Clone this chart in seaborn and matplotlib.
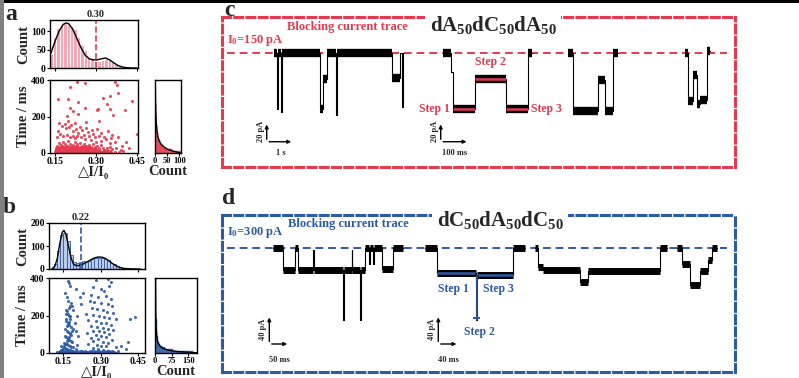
import numpy as np
import pandas as pd
import seaborn as sns
import matplotlib
matplotlib.use("Agg")
import matplotlib.pyplot as plt
from matplotlib.patches import Rectangle
import matplotlib.transforms as mtrans

sns.set_theme(style="white")
plt.rcParams["font.family"] = ["Liberation Serif", "DejaVu Sans"]
plt.rcParams["font.weight"] = "bold"
plt.rcParams["axes.labelweight"] = "bold"
plt.rcParams["mathtext.fontset"] = "custom"
plt.rcParams["mathtext.rm"] = "Liberation Serif:bold"
plt.rcParams["mathtext.it"] = "Liberation Serif:bold"
plt.rcParams["mathtext.bf"] = "Liberation Serif:bold"

RED = "#E5394F"
RED_LIGHT = "#F4A7B4"
BLUE = "#2D5AA8"
BLUE_LIGHT = "#BACCEA"

# ---------------- panel a data ----------------
HA_CENTERS = [0.136, 0.149, 0.161, 0.174, 0.186, 0.199, 0.211, 0.224, 0.236, 0.249,
              0.261, 0.274, 0.286, 0.299, 0.311, 0.324, 0.336, 0.349, 0.361, 0.374,
              0.386, 0.399, 0.411, 0.424, 0.436, 0.449]
HA_COUNTS = [38, 85, 108, 118, 122, 120, 115, 105, 85, 62,
             48, 30, 25, 20, 18, 22, 25, 22, 15, 10,
             5, 3, 1, 0, 2, 0]
FIT_A_X = [0.135, 0.15, 0.165, 0.18, 0.19, 0.20, 0.215, 0.23, 0.245, 0.26, 0.275,
           0.29, 0.305, 0.32, 0.335, 0.35, 0.365, 0.38, 0.395, 0.41, 0.43, 0.45]
FIT_A_Y = [40, 72, 100, 118, 122, 120, 105, 80, 55, 35, 25,
           22, 22, 25, 27, 22, 14, 7, 3, 1, 0, 0]
PEAK_A = 0.30

SA_X = [0.232, 0.260, 0.205, 0.370, 0.376, 0.160, 0.196, 0.235, 0.327, 0.351, 0.382, 0.433,
        0.205, 0.217, 0.260, 0.303, 0.309, 0.339, 0.351, 0.406, 0.363, 0.193, 0.199, 0.235,
        0.449, 0.394,
        0.165, 0.175, 0.185, 0.19, 0.2, 0.21, 0.215, 0.222, 0.228, 0.235, 0.24, 0.25, 0.255,
        0.262, 0.27, 0.275, 0.285, 0.29, 0.298, 0.305, 0.312, 0.32, 0.33, 0.338, 0.345, 0.355,
        0.36, 0.37, 0.38, 0.16, 0.17, 0.18, 0.158, 0.195, 0.205, 0.215, 0.225, 0.23, 0.245,
        0.26, 0.28, 0.3, 0.32, 0.35, 0.265, 0.31, 0.41, 0.42, 0.39,
        0.152, 0.155, 0.158, 0.16, 0.163, 0.165, 0.168, 0.17, 0.172, 0.175, 0.178, 0.18, 0.182,
        0.185, 0.187, 0.19, 0.192, 0.195, 0.197, 0.2, 0.202, 0.205, 0.207, 0.21, 0.212, 0.215,
        0.217, 0.22, 0.222, 0.225, 0.227, 0.23, 0.232, 0.235, 0.237, 0.24, 0.242, 0.245, 0.247,
        0.25, 0.252, 0.255, 0.257, 0.26, 0.262, 0.265, 0.267, 0.27, 0.272, 0.275, 0.278, 0.28,
        0.283, 0.285, 0.288, 0.29, 0.293, 0.296, 0.3, 0.303, 0.306, 0.31, 0.314, 0.318, 0.322,
        0.326, 0.33, 0.335, 0.34, 0.345, 0.35, 0.355, 0.36, 0.368, 0.375, 0.385, 0.4,
        0.154, 0.166, 0.176, 0.186, 0.196, 0.206, 0.216, 0.226, 0.236, 0.246, 0.256, 0.266,
        0.276, 0.286, 0.296, 0.306, 0.316, 0.326, 0.159, 0.171, 0.183, 0.193, 0.203, 0.213,
        0.223, 0.233, 0.243, 0.253, 0.263, 0.273, 0.283, 0.293, 0.303, 0.313, 0.323, 0.333,
        0.151, 0.157, 0.162, 0.167, 0.173, 0.179, 0.184, 0.189, 0.194, 0.199, 0.204, 0.209,
        0.214, 0.219, 0.224, 0.229, 0.234, 0.239, 0.244, 0.249, 0.254, 0.259, 0.264, 0.269,
        0.274, 0.279, 0.284, 0.289, 0.294, 0.299, 0.304, 0.309, 0.153, 0.164, 0.174, 0.181,
        0.188, 0.198, 0.208, 0.218, 0.228, 0.238, 0.248, 0.258, 0.268, 0.278, 0.291, 0.301,
        0.156, 0.169, 0.177, 0.191, 0.201, 0.211, 0.221, 0.231, 0.241, 0.251, 0.261, 0.271,
        0.281, 0.292, 0.312, 0.328, 0.342, 0.352]
SA_Y = [389, 382, 363, 389, 371, 294, 294, 279, 303, 312, 330, 285,
        248, 230, 248, 236, 239, 267, 239, 236, 207, 203, 175, 212,
        102, 38,
        165, 150, 160, 135, 140, 155, 120, 165, 130, 110, 145, 125, 100,
        135, 115, 95, 125, 105, 85, 130, 95, 110, 90, 75, 120, 80,
        100, 60, 85, 120, 105, 95, 90, 100, 85, 95, 80, 95, 85,
        75, 70, 60, 65, 55, 170, 175, 60, 25, 15,
        5, 20, 40, 10, 30, 55, 15, 3, 42, 25, 8, 60, 35,
        12, 48, 22, 4, 38, 65, 15, 28, 50, 6, 33, 18, 45,
        10, 28, 58, 5, 38, 20, 48, 12, 30, 3, 55, 22, 40,
        8, 30, 15, 50, 25, 5, 40, 18, 32, 8, 45, 20, 3,
        30, 12, 50, 22, 6, 35, 15, 40, 5, 25, 12, 45, 8,
        30, 18, 4, 25, 10, 35, 5, 20, 8, 30, 5, 10,
        2, 1, 2, 1, 2, 1, 2, 1, 2, 1, 2, 1,
        2, 1, 2, 1, 2, 1, 6, 7, 5, 8, 6, 7,
        5, 8, 6, 7, 5, 8, 6, 7, 5, 6, 4, 3,
        9, 14, 4, 18, 11, 3, 16, 9, 13, 4, 19, 8,
        14, 3, 17, 10, 5, 15, 9, 12, 4, 18, 10, 6,
        14, 3, 11, 7, 16, 5, 12, 8, 26, 24, 29, 22,
        27, 23, 26, 24, 28, 22, 25, 27, 23, 26, 21, 24,
        35, 33, 37, 36, 34, 38, 32, 36, 35, 33, 37, 34,
        32, 30, 18, 14, 16, 12]

TA_CENTERS = [5, 15, 25, 35, 45, 55, 65, 75, 85, 95, 105, 115, 125, 135, 145, 155, 165, 175,
              185, 195, 205, 215, 225, 235, 245, 255, 265, 275, 285, 295, 305, 315, 325, 335,
              345, 355, 365, 375, 385, 395]
TA_COUNTS = [105, 70, 45, 34, 27, 22, 19, 16, 14, 12, 11, 10, 9, 8, 7, 6, 6, 5, 5, 5,
             4, 4, 4, 3, 3, 3, 3, 2, 2, 2, 2, 2, 1, 1, 1, 1, 1, 1, 1, 1]
FIT_TA_C = [105, 90, 70, 50, 35, 24, 16, 11, 8, 5, 3, 2, 1]
FIT_TA_T = [0, 5, 12, 22, 35, 50, 70, 95, 125, 170, 230, 300, 400]

# ---------------- panel b data ----------------
HB_CENTERS = [0.106, 0.119, 0.131, 0.144, 0.156, 0.169, 0.181, 0.194, 0.206, 0.219,
              0.231, 0.244, 0.256, 0.269, 0.281, 0.294, 0.306, 0.319, 0.331, 0.344,
              0.356, 0.369, 0.381, 0.394, 0.406, 0.419, 0.431, 0.444]
HB_COUNTS = [5, 20, 80, 150, 155, 120, 60, 30, 28, 30,
             35, 30, 35, 42, 48, 50, 50, 45, 38, 28,
             20, 14, 10, 6, 4, 2, 1, 1]
FIT_B_X = [0.105, 0.115, 0.125, 0.135, 0.145, 0.152, 0.16, 0.17, 0.18, 0.19, 0.20, 0.21,
           0.22, 0.23, 0.24, 0.25, 0.26, 0.27, 0.28, 0.29, 0.30, 0.31, 0.32, 0.33, 0.34,
           0.35, 0.36, 0.37, 0.38, 0.39, 0.40, 0.42, 0.46]
FIT_B_Y = [2, 12, 45, 110, 160, 168, 150, 100, 50, 22, 15, 15,
           18, 22, 28, 34, 40, 46, 50, 52, 52, 50, 45, 38, 30,
           22, 15, 10, 6, 3, 2, 0.5, 0]
PEAK_B = 0.22

SB_X = [0.168, 0.172, 0.176, 0.165, 0.17, 0.175, 0.16, 0.168, 0.172, 0.178, 0.162, 0.167,
        0.174, 0.18, 0.158, 0.165, 0.17, 0.176, 0.182, 0.155, 0.162, 0.168, 0.174, 0.18,
        0.186, 0.152, 0.158, 0.165, 0.17, 0.176, 0.182, 0.19, 0.148, 0.155, 0.16, 0.166,
        0.172, 0.178, 0.184, 0.19, 0.145, 0.15, 0.156, 0.162, 0.168, 0.174, 0.18, 0.186,
        0.196, 0.2, 0.205, 0.21, 0.2, 0.195, 0.19, 0.185, 0.205, 0.138, 0.14, 0.135, 0.13,
        0.125,
        0.28, 0.33, 0.34, 0.335, 0.27, 0.3, 0.315, 0.26, 0.29, 0.32, 0.34, 0.255, 0.275, 0.3,
        0.33, 0.345, 0.265, 0.285, 0.31, 0.325, 0.35, 0.24, 0.27, 0.295, 0.315, 0.335, 0.36,
        0.25, 0.28, 0.3, 0.32, 0.34, 0.26, 0.285, 0.31, 0.33, 0.35, 0.27, 0.295, 0.315, 0.245,
        0.335, 0.28, 0.3, 0.32, 0.26, 0.29, 0.345, 0.27, 0.31, 0.33, 0.25, 0.285, 0.3, 0.32,
        0.36, 0.27, 0.29, 0.31, 0.33, 0.35, 0.26, 0.28, 0.3, 0.32, 0.34, 0.37, 0.38, 0.4,
        0.42, 0.44, 0.41, 0.23, 0.22, 0.2, 0.215,
        0.13, 0.14, 0.15, 0.16, 0.17, 0.18, 0.19, 0.2, 0.21, 0.22, 0.23, 0.24, 0.25, 0.26,
        0.27, 0.28, 0.29, 0.3, 0.31, 0.32, 0.33, 0.34, 0.35, 0.36, 0.135, 0.145, 0.155,
        0.165, 0.175, 0.185, 0.195, 0.205, 0.215, 0.225, 0.235, 0.245, 0.255, 0.265, 0.275,
        0.285, 0.295, 0.305, 0.315, 0.325, 0.335, 0.345, 0.355,
        0.142, 0.147, 0.153, 0.157, 0.163, 0.167, 0.173, 0.177, 0.183, 0.187, 0.164, 0.169,
        0.171, 0.159, 0.177, 0.161, 0.166, 0.173, 0.179, 0.157]
SB_Y = [385, 372, 360, 300, 280, 250, 230, 210, 195, 180, 170, 160,
        150, 140, 130, 120, 112, 105, 95, 90, 85, 78, 72, 65,
        60, 55, 50, 46, 42, 38, 34, 30, 28, 25, 22, 20,
        18, 15, 12, 10, 8, 6, 5, 4, 3, 2, 3, 5,
        8, 20, 45, 90, 120, 160, 230, 250, 200, 15, 40, 5, 2,
        3,
        392, 395, 380, 360, 350, 340, 330, 310, 300, 305, 290, 280, 270, 265,
        260, 250, 240, 235, 228, 220, 215, 210, 205, 198, 190, 185, 180,
        175, 170, 162, 158, 150, 145, 140, 135, 130, 125, 120, 115, 110, 105,
        100, 95, 90, 85, 80, 75, 70, 65, 60, 55, 50, 45, 40, 35,
        30, 25, 20, 15, 10, 8, 5, 3, 4, 2, 3, 12, 40, 20,
        180, 190, 60, 320, 260, 340, 300,
        3, 5, 2, 6, 4, 7, 3, 5, 2, 4, 6, 3, 5, 2,
        4, 6, 3, 5, 2, 4, 6, 3, 5, 2, 9, 10, 11,
        12, 9, 10, 8, 11, 9, 10, 12, 8, 10, 11, 9,
        12, 10, 8, 11, 9, 12, 10, 8,
        14, 22, 35, 48, 62, 75, 88, 100, 115, 128, 142, 155,
        168, 182, 196, 210, 222, 240, 265, 322]

TB_CENTERS = TA_CENTERS
TB_COUNTS = [170, 80, 45, 30, 22, 18, 15, 13, 12, 11, 10, 9, 9, 8, 8, 7, 7, 7, 6, 6,
             6, 6, 5, 5, 5, 5, 5, 4, 4, 4, 4, 4, 4, 3, 3, 3, 3, 3, 3, 3]
FIT_TB_C = [190, 150, 100, 60, 35, 20, 12, 8, 5, 3, 2]
FIT_TB_T = [1, 4, 8, 15, 25, 40, 60, 90, 140, 220, 400]

# ---------------- panel c traces (time units, current pA) ----------------
I0_C = 150
C_TRACE_1 = [(52, 55, 150), (55, 55.8, 98), (55.8, 59, 150), (59, 59.8, 95), (59.8, 98, 150),
             (98, 101, 98), (101, 105, 126), (105, 114, 150), (114, 114.8, 92),
             (114.8, 170, 150), (170, 178, 127), (178, 180, 150), (180, 180.8, 100),
             (180.8, 181.5, 150)]
C_TRACE_2 = [(221, 229, 150), (229, 231, 132), (231, 253, 98), (253, 284, 126),
             (284, 306, 98), (306, 310, 150)]
C_TRACE_3 = [(346, 351, 150), (351, 376, 96), (376, 383, 125), (383, 391, 96), (391, 396, 150)]
C_TRACE_4 = [(463, 466, 150), (466, 471, 105), (471, 475, 129), (475, 478, 103),
             (478, 485, 106), (485, 488, 152)]
C_STEPS = [(231, 253, 98), (253, 284, 126), (284, 306, 98)]
C_STEP_LABELS = ["Step 1", "Step 2", "Step 3"]

# ---------------- panel d traces ----------------
I0_D = 300
D_TRACE_1 = [(51, 61, 300), (61, 73, 268), (73, 76, 300), (76, 91, 268), (91, 91.8, 296),
             (91.8, 121, 268), (121, 121.8, 197), (121.8, 129.5, 268), (129.5, 130.3, 296),
             (130.3, 138, 268), (138, 138.8, 197), (138.8, 143, 268), (143, 147, 300),
             (147, 147.8, 276), (147.8, 151, 300), (151, 151.8, 276), (151.8, 160, 300),
             (160, 171, 270), (171, 181, 300)]
D_TRACE_2 = [(203, 215, 300), (215, 254.3, 263.5), (254.3, 255.1, 197), (255.1, 291, 261),
             (291, 303, 300)]
D_TRACE_3 = [(313, 316, 300), (316, 321, 272), (321, 358, 268), (358, 366, 251),
             (366, 438, 267), (438, 445, 300)]
D_TRACE_4 = [(455, 460, 300), (460, 468, 277), (468, 478, 246), (478, 486, 266),
             (486, 490, 282), (490, 495, 300)]
D_STEPS = [(215, 253, 263.5), (256, 291, 261)]
D_SPIKE = (254.7, 261, 197)

# ---------------- figure ----------------
W, H = 799, 378
fig = plt.figure(figsize=(W / 100, H / 100), dpi=100)
fig.patch.set_facecolor("white")


def add_ax(l, t, r, b):
    return fig.add_axes([l / W, 1 - b / H, (r - l) / W, (b - t) / H])


def style(ax, fs=7):
    for s in ax.spines.values():
        s.set_visible(True)
        s.set_color("black")
        s.set_linewidth(1.0)
    ax.tick_params(direction="out", length=2, width=0.8, labelsize=fs, pad=1,
                   colors="black", bottom=True, left=True)
    for lab in ax.get_xticklabels() + ax.get_yticklabels():
        lab.set_fontweight("bold")
    ax.grid(False)


def edges_of(c):
    c = np.asarray(c, dtype=float)
    w = c[1] - c[0]
    return [float(v) for v in np.append(c - w / 2, c[-1] + w / 2)]


def left_panels(tops, peak, peak_txt, hc, hcnt, fx, fy, hcol, hedge, xlim, hylim, hyt,
                sx, sy, scol, tc, tcnt, ftc, ftt, txlim, txt_ticks):
    ht, hb, st, sb, l, r, rl, rr = tops
    ax = add_ax(l, ht, r, hb)
    dfh = pd.DataFrame({"c": hc, "n": hcnt})
    sns.histplot(data=dfh, x="c", weights="n", bins=edges_of(hc), ax=ax, color=hcol,
                 edgecolor=hedge, linewidth=0.6, alpha=1)
    sns.lineplot(x=fx, y=fy, ax=ax, color="black", lw=1.0)
    ax.axvline(peak, color=scol, ls="--", lw=1.2)
    ax.set_xlim(*xlim)
    ax.set_ylim(*hylim)
    ax.set_xticks([0.15, 0.30, 0.45])
    ax.set_xticklabels([])
    ax.set_yticks(hyt)
    ax.set_xlabel("")
    ax.set_ylabel("Count", fontsize=10.5, labelpad=1)
    style(ax)
    tr = mtrans.blended_transform_factory(ax.transData, ax.transAxes)
    ax.text(peak, 1.03, peak_txt, transform=tr, ha="center", va="bottom", fontsize=7.5)

    ax2 = add_ax(l, st, r, sb)
    sns.scatterplot(x=sx, y=sy, ax=ax2, color=scol, s=5, linewidth=0, alpha=0.9)
    ax2.set_xlim(*xlim)
    ax2.set_ylim(0, 400)
    ax2.set_xticks([0.15, 0.30, 0.45])
    ax2.set_xticklabels(["0.15", "0.30", "0.45"])
    ax2.set_yticks([0, 200, 400])
    ax2.set_xlabel("△I/I₀", fontsize=10.5, labelpad=0)
    ax2.set_ylabel("Time / ms", fontsize=10.5, labelpad=1)
    style(ax2)

    ax3 = add_ax(rl, st, rr, sb)
    dft = pd.DataFrame({"t": tc, "n": tcnt})
    sns.histplot(data=dft, y="t", weights="n", bins=edges_of(tc), ax=ax3, color=scol,
                 edgecolor=scol, linewidth=0.3, alpha=0.85)
    sns.lineplot(x=ftc, y=ftt, ax=ax3, color="black", lw=1.0, sort=False, estimator=None)
    ax3.set_ylim(0, 400)
    ax3.set_xlim(*txlim)
    ax3.set_xticks(txt_ticks)
    ax3.set_yticks([])
    ax3.set_ylabel("")
    ax3.set_xlabel("Count", fontsize=10.5, labelpad=0)
    style(ax3, fs=6)


left_panels((20, 68, 80, 153, 50, 138, 155, 181), PEAK_A, "0.30", HA_CENTERS, HA_COUNTS,
            FIT_A_X, FIT_A_Y, RED_LIGHT, "white", (0.1317, 0.4537), (0, 130), [0, 50, 100],
            SA_X, SA_Y, RED, TA_CENTERS, TA_COUNTS, FIT_TA_C, FIT_TA_T, (0, 107), [0, 50, 100])
left_panels((223, 269, 278, 353, 49, 145, 155, 197), PEAK_B, "0.22", HB_CENTERS, HB_COUNTS,
            FIT_B_X, FIT_B_Y, BLUE_LIGHT, BLUE, (0.0916, 0.4786), (0, 200), [0, 100, 200],
            SB_X, SB_Y, BLUE, TB_CENTERS, TB_COUNTS, FIT_TB_C, FIT_TB_T, (0, 190), [0, 75, 150])


def trace_panel(box, ylim, col, traces, band_lw, i0, title, i0_txt, title_y, bct_pos,
                i0_pos, bars, bar_len, bar_txt, steps, title_x):
    ax = add_ax(*box)
    ax.set_xlim(0, box[2] - box[0])
    ax.set_ylim(*ylim)
    ax.set_xticks([])
    ax.set_yticks([])
    ax.set_facecolor("none")
    for s in ax.spines.values():
        s.set_visible(True)
        s.set_color(col)
        s.set_linewidth(2.2)
        s.set_linestyle((0, (2.6, 1.4)))
    ax.hlines(i0, 4.7, 504.7, color=col, lw=1.4, linestyles=(0, (4, 2.5)), zorder=1)
    for segs in traces:
        xs, ys = [], []
        for s, e, lv in segs:
            xs += [s, e]
            ys += [lv, lv]
        sns.lineplot(x=xs, y=ys, ax=ax, color="black", lw=0.8, sort=False, estimator=None)
        for s, e, lv in segs:
            if e - s > 2:
                ax.hlines(lv, s, e, color="black", lw=band_lw, zorder=2)
    for s, e, lv in steps:
        ax.hlines(lv, s, e, color=col, lw=1.8, zorder=3)
    ax.text(title_x, title_y, title, ha="center", va="center", fontsize=15, zorder=6,
            bbox=dict(facecolor="white", edgecolor="none", pad=3))
    ax.text(bct_pos[0], bct_pos[1], "Blocking current trace", color=col, fontsize=9,
            ha="left", va="center")
    ax.text(i0_pos[0], i0_pos[1], i0_txt, color=col, fontsize=9, ha="left", va="center")
    for (cx, cy, hx), (vt, ht) in zip(bars, bar_txt):
        ax.annotate("", xy=(cx, cy + bar_len), xytext=(cx, cy - 0.3),
                    arrowprops=dict(arrowstyle="-|>", lw=1.0, color="black", mutation_scale=5))
        ax.annotate("", xy=(hx, cy), xytext=(cx - 0.3, cy),
                    arrowprops=dict(arrowstyle="-|>", lw=1.0, color="black", mutation_scale=5))
        ax.text(cx - 6, cy + bar_len / 2, vt, rotation=90, ha="center", va="center", fontsize=6)
        ax.text((cx + hx) / 2, cy - bar_len * 0.55, ht, ha="center", va="center", fontsize=6)
    return ax


axc = trace_panel((222, 17, 735, 167), (44.2, 183.1), RED,
                  [C_TRACE_1, C_TRACE_2, C_TRACE_3, C_TRACE_4], 6, I0_C,
                  "dA$_{50}$dC$_{50}$dA$_{50}$", "I$_0$=150 pA", 176, (64.7, 173.5),
                  (5.3, 161.8), [(44.7, 67.6, 72), (218.7, 67.6, 247.3)], 18.5,
                  [("20 pA", "1 s"), ("20 pA", "100 ms")], C_STEPS, 271)
axc.text(C_STEPS[0][0] - 3, C_STEPS[0][2], C_STEP_LABELS[0], color=RED, fontsize=8.5,
         ha="right", va="center")
axc.text((C_STEPS[1][0] + C_STEPS[1][1]) / 2, C_STEPS[1][2] + 15, C_STEP_LABELS[1], color=RED,
         fontsize=8.5, ha="center", va="center")
axc.text(C_STEPS[2][1] + 3, C_STEPS[2][2], C_STEP_LABELS[2], color=RED, fontsize=8.5,
         ha="left", va="center")

axd = trace_panel((222, 215, 735, 372), (122.4, 346.7), BLUE,
                  [D_TRACE_1, D_TRACE_2, D_TRACE_3, D_TRACE_4], 5, I0_D,
                  "dC$_{50}$dA$_{50}$dC$_{50}$", "I$_0$=300 pA", 340, (66.3, 333.3),
                  (5.3, 321.4), [(47.3, 162.4, 68), (216.3, 162.4, 237.3)], 42,
                  [("40 pA", "50 ms"), ("40 pA", "40 ms")], D_STEPS, 278)
axd.vlines(D_SPIKE[0], D_SPIKE[2], D_SPIKE[1], color=BLUE, lw=1.2, zorder=3)
axd.hlines(D_SPIKE[2] + 2, D_SPIKE[0] - 3.5, D_SPIKE[0] + 3.5, color=BLUE, lw=1.5, zorder=3)
axd.text(231.3, 240.6, "Step 1", color=BLUE, fontsize=8.5, ha="center", va="center")
axd.text(276.3, 240.6, "Step 3", color=BLUE, fontsize=8.5, ha="center", va="center")
axd.text(257.3, 180, "Step 2", color=BLUE, fontsize=8.5, ha="center", va="center")

# panel letters
for lab, (x, y) in zip("abcd", [(11, 14), (9, 207), (229, 11), (229, 198)]):
    fig.text(x / W, 1 - y / H, lab, fontsize=17, fontweight="bold", ha="center",
             va="center")

# frame strips of the original image
fig.patches.append(Rectangle((0, 1 - 3 / H), 1, 3 / H, transform=fig.transFigure,
                             facecolor="black", edgecolor="none", zorder=10))
fig.patches.append(Rectangle((0, 0), 4 / W, 1, transform=fig.transFigure,
                             facecolor="#808080", edgecolor="none", zorder=10))

fig.savefig("out.png", dpi=100, facecolor="white")
